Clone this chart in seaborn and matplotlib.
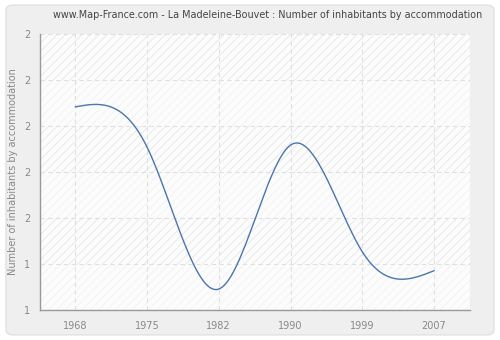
import numpy as np
import pandas as pd
import seaborn as sns
import matplotlib
matplotlib.use("Agg")
import matplotlib.pyplot as plt
from matplotlib.patches import FancyBboxPatch

# ---- data ----
years = ["1968", "1975", "1982", "1990", "1999", "2007"]
values = [2.083, 1.909, 1.291, 1.917, 1.453, 1.371]
ytick_values = [1.2, 1.4, 1.6, 1.8, 2.0, 2.2, 2.4]
ytick_labels = ["1", "1", "2", "2", "2", "2", "2"]
title = "www.Map-France.com - La Madeleine-Bouvet : Number of inhabitants by accommodation"
ylabel = "Number of inhabitants by accommodation"


def natural_spline(x, y, n=400):
    x = np.asarray(x, float)
    y = np.asarray(y, float)
    k = len(x)
    h = np.diff(x)
    A = np.zeros((k, k))
    r = np.zeros(k)
    A[0, 0] = A[-1, -1] = 1
    for i in range(1, k - 1):
        A[i, i - 1] = h[i - 1]
        A[i, i] = 2 * (h[i - 1] + h[i])
        A[i, i + 1] = h[i]
        r[i] = 3 * ((y[i + 1] - y[i]) / h[i] - (y[i] - y[i - 1]) / h[i - 1])
    c = np.linalg.solve(A, r)
    xs = np.linspace(x[0], x[-1], n)
    idx = np.clip(np.searchsorted(x, xs) - 1, 0, k - 2)
    dx = xs - x[idx]
    b = (y[idx + 1] - y[idx]) / h[idx] - h[idx] * (2 * c[idx] + c[idx + 1]) / 3
    d = (c[idx + 1] - c[idx]) / (3 * h[idx])
    ys = y[idx] + b * dx + c[idx] * dx ** 2 + d * dx ** 3
    return xs, ys


sns.set_theme(style="white")
plt.rcParams["font.family"] = ["DejaVu Sans"]
plt.rcParams["hatch.linewidth"] = 0.6

fig = plt.figure(figsize=(5, 3.4), dpi=100)
fig.patch.set_facecolor("white")
frame = FancyBboxPatch((0.012, 0.015), 0.976, 0.97, boxstyle="round,pad=0,rounding_size=0.015",
                       transform=fig.transFigure, facecolor="#efefef", edgecolor="#e2e2e2",
                       linewidth=1.0, zorder=-10)
fig.patches.append(frame)

ax = fig.add_axes([0.08, 0.0882, 0.86, 0.8118])
ax.set_zorder(1)
ax.set_facecolor("#fcfcfc")

xpos = np.arange(len(years))
xs, ys = natural_spline(xpos, values)
df = pd.DataFrame({"x": xs, "y": ys})

ax.set_xlim(-0.49, 5.5)
ax.set_ylim(ytick_values[0], ytick_values[-1])

# alternating hatched bands
for i in range(len(ytick_values) - 1):
    strong = (len(ytick_values) - 2 - i) % 2 == 0
    ax.axhspan(ytick_values[i], ytick_values[i + 1], facecolor="none",
               edgecolor="#e6e6e6" if strong else "#f1f1f1", hatch="////",
               linewidth=0, zorder=0)

sns.lineplot(data=df, x="x", y="y", ax=ax, color="#4a76ad", linewidth=1.0, zorder=3)

ax.set_xticks(xpos)
ax.set_xticklabels(years)
ax.set_yticks(ytick_values)
ax.set_yticklabels(ytick_labels)
ax.grid(True, color="#e0e0e0", linestyle=(0, (4, 3)), linewidth=0.8, zorder=1)
ax.set_axisbelow(True)

for s in ["top", "right"]:
    ax.spines[s].set_visible(False)
for s in ["left", "bottom"]:
    ax.spines[s].set_color("#999999")
    ax.spines[s].set_linewidth(1.0)

ax.tick_params(axis="both", colors="#999999", labelcolor="#888888", labelsize=7,
               length=4, width=0.8, direction="out")
ax.tick_params(axis="x", pad=4)
ax.tick_params(axis="y", pad=3)
ax.set_xlabel("")
ax.set_ylabel(ylabel, color="#888888", fontsize=7, labelpad=4)

fig.text(0.535, 0.955, title, ha="center", va="center", fontsize=6.9, color="#444444")

fig.savefig("out.png", dpi=100, facecolor=fig.get_facecolor())
